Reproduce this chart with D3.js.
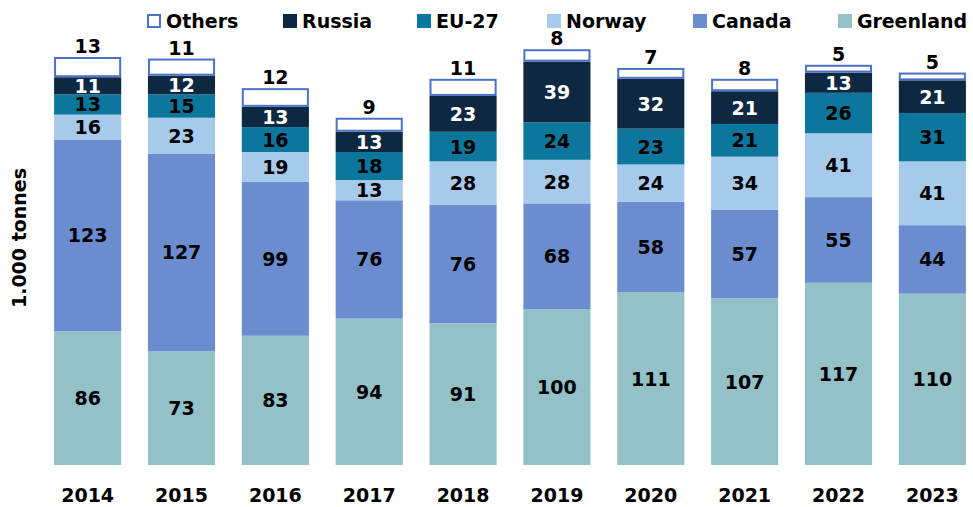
<!DOCTYPE html>
<html>
<head>
<meta charset="utf-8">
<script src="https://cdn.jsdelivr.net/npm/d3@7"></script>
<style>
  body { margin: 0; background: #fff; }
  text { font-family: "DejaVu Sans", sans-serif; font-weight: bold; }
</style>
</head>
<body>
<div id="chart"></div>
<script>
// data
var years = ["2014","2015","2016","2017","2018","2019","2020","2021","2022","2023"];
var greenland = [86, 73, 83, 94, 91, 100, 111, 107, 117, 110];
var canada    = [123, 127, 99, 76, 76, 68, 58, 57, 55, 44];
var norway    = [16, 23, 19, 13, 28, 28, 24, 34, 41, 41];
var eu27      = [13, 15, 16, 18, 19, 24, 23, 21, 26, 31];
var russia    = [11, 12, 13, 13, 23, 39, 32, 21, 13, 21];
var others    = [13, 11, 12, 9, 11, 8, 7, 8, 5, 5];

var series = [
  {name: "Greenland", values: greenland, fill: "#93c1c7", text: "#000"},
  {name: "Canada",    values: canada,    fill: "#6b8dcf", text: "#000"},
  {name: "Norway",    values: norway,    fill: "#a7c9ea", text: "#000"},
  {name: "EU-27",     values: eu27,      fill: "#0c769c", text: "#000"},
  {name: "Russia",    values: russia,    fill: "#0e2841", text: "#fff"},
  {name: "Others",    values: others,    fill: "#fff",    text: "#000"}
];

var width = 973, height = 507;
var svg = d3.select("#chart").append("svg")
    .attr("width", width).attr("height", height);

var x = d3.scaleBand().domain(years).range([40, 980]).paddingInner(0.285).paddingOuter(0.15);
var y = d3.scaleLinear().domain([0, 262]).range([465, 57]);

// stack the series bottom to top
var rows = years.map(function(yr, i) {
  var r = {year: yr};
  series.forEach(function(s) { r[s.name] = s.values[i]; });
  return r;
});
var stack = d3.stack().keys(series.map(function(s){ return s.name; }));
var layers = stack(rows);

layers.forEach(function(layer, li) {
  var s = series[li];
  var isOthers = s.name == "Others";
  var g = svg.append("g");
  g.selectAll("rect").data(layer).enter().append("rect")
    .attr("x", function(d){ return x(d.data.year) + (isOthers ? 1 : 0); })
    .attr("width", x.bandwidth() - (isOthers ? 2 : 0))
    .attr("y", function(d){ return y(d[1]) + (isOthers ? 1 : 0); })
    .attr("height", function(d){ return y(d[0]) - y(d[1]) - (isOthers ? 2 : 0); })
    .attr("fill", s.fill)
    .attr("stroke", isOthers ? "#4a72c8" : "none")
    .attr("stroke-width", 2);

  g.selectAll("text").data(layer).enter().append("text")
    .attr("x", function(d){ return x(d.data.year) + x.bandwidth()/2; })
    .attr("y", function(d){
      if (isOthers) return y(d[1]) - 4;
      return (y(d[0]) + y(d[1]))/2 + 7;
    })
    .attr("text-anchor", "middle")
    .attr("font-size", "19px")
    .attr("fill", s.text)
    .text(function(d){ return d[1] - d[0]; });
});

// x axis labels
svg.append("g").selectAll("text").data(years).enter().append("text")
  .attr("x", function(d){ return x(d) + x.bandwidth()/2; })
  .attr("y", 502)
  .attr("text-anchor", "middle")
  .attr("font-size", "19px")
  .attr("fill", "#000")
  .text(function(d){ return d; });

// y axis title
svg.append("text")
  .attr("transform", "translate(26,238) rotate(-90)")
  .attr("text-anchor", "middle")
  .attr("font-size", "19px")
  .attr("fill", "#000")
  .text("1.000 tonnes");

// legend
var legendItems = series.slice().reverse();
var legendX = [147, 283, 417, 547, 693, 838];
var lg = svg.append("g").selectAll("g").data(legendItems).enter().append("g")
  .attr("transform", function(d, i){ return "translate(" + legendX[i] + ",0)"; });
lg.append("rect")
  .attr("x", function(d){ return d.name == "Others" ? 1 : 0; })
  .attr("y", function(d){ return d.name == "Others" ? 15 : 14; })
  .attr("width", function(d){ return d.name == "Others" ? 12 : 14; })
  .attr("height", function(d){ return d.name == "Others" ? 12 : 14; })
  .attr("fill", function(d){ return d.fill; })
  .attr("stroke", function(d){ return d.name == "Others" ? "#4a72c8" : "none"; })
  .attr("stroke-width", 2);
lg.append("text")
  .attr("x", 19)
  .attr("y", 28)
  .attr("font-size", "19px")
  .attr("textLength", function(d){ return d.name == "Greenland" ? 110 : null; })
  .attr("fill", "#000")
  .text(function(d){ return d.name; });
</script>
</body>
</html>
